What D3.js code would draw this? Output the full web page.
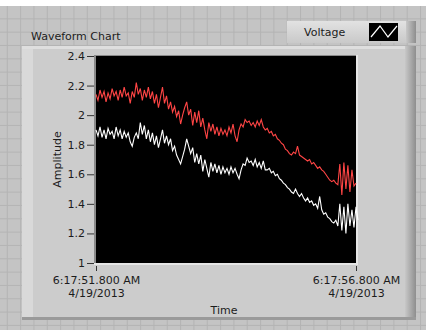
<!DOCTYPE html>
<html>
<head>
<meta charset="utf-8">
<script src="https://cdn.jsdelivr.net/npm/d3@7"></script>
<style>
  body { margin: 0; background: #fff; }
  svg { display: block; }
  text { font-family: "DejaVu Sans", sans-serif; font-size: 11px; fill: #1c1c1c; }
</style>
</head>
<body>
<div id="chart"></div>
<script>
// waveform values, one sample every dt from startTime
const redValues = [
  2.14, 2.10, 2.17, 2.12, 2.16, 2.09, 2.15, 2.11, 2.18, 2.13,
  2.16, 2.10, 2.17, 2.12, 2.19, 2.13, 2.15, 2.08, 2.16, 2.12,
  2.22, 2.14, 2.18, 2.10, 2.17, 2.12, 2.19, 2.11, 2.16, 2.08,
  2.14, 2.05, 2.12, 2.19, 2.08, 2.13, 2.04, 2.09, 2.02, 2.06,
  1.99, 2.03, 1.94, 2.00, 2.05, 2.09, 2.00, 2.04, 1.93, 2.02,
  1.95, 2.03, 1.92, 1.98, 1.90, 1.84, 1.95, 1.89, 1.94, 1.87,
  1.92, 1.86, 1.91, 1.87, 1.90, 1.86, 1.92, 1.88, 1.94, 1.86,
  1.82, 1.90, 1.94, 1.92, 1.97, 1.95, 1.96, 1.93, 1.95, 1.92,
  1.96, 1.93, 1.97, 1.92, 1.90, 1.91, 1.88, 1.89, 1.86, 1.87,
  1.84, 1.83, 1.81, 1.80, 1.77, 1.76, 1.74, 1.73, 1.75, 1.74,
  1.79, 1.73, 1.72, 1.71, 1.70, 1.69, 1.70, 1.67, 1.68, 1.66,
  1.64, 1.65, 1.63, 1.62, 1.60, 1.58, 1.56, 1.55, 1.56, 1.54,
  1.53, 1.67, 1.46, 1.68, 1.50, 1.66, 1.48, 1.63, 1.52, 1.54
];
const whiteValues = [
  1.90, 1.86, 1.92, 1.85, 1.90, 1.84, 1.91, 1.87, 1.89, 1.84,
  1.92, 1.86, 1.90, 1.84, 1.89, 1.85, 1.88, 1.82, 1.79, 1.85,
  1.88, 1.84, 1.95, 1.87, 1.93, 1.84, 1.90, 1.82, 1.88, 1.80,
  1.86, 1.78, 1.84, 1.90, 1.81, 1.86, 1.80, 1.84, 1.76, 1.79,
  1.73, 1.70, 1.67, 1.72, 1.77, 1.84, 1.79, 1.74, 1.78, 1.68,
  1.74, 1.67, 1.73, 1.62, 1.70, 1.64, 1.58, 1.68, 1.62, 1.67,
  1.61, 1.66, 1.60, 1.65, 1.61, 1.64, 1.60, 1.65, 1.61, 1.64,
  1.60, 1.57, 1.63, 1.67, 1.66, 1.71, 1.68, 1.69, 1.66, 1.70,
  1.65, 1.68, 1.64, 1.69, 1.63, 1.63, 1.64, 1.61, 1.62, 1.59,
  1.60, 1.57, 1.56, 1.54, 1.53, 1.51, 1.50, 1.48, 1.47, 1.50,
  1.47, 1.45, 1.47, 1.44, 1.42, 1.44, 1.41, 1.42, 1.39, 1.40,
  1.37, 1.45, 1.36, 1.33, 1.34, 1.31, 1.30, 1.28, 1.27, 1.29,
  1.25, 1.40, 1.22, 1.38, 1.20, 1.40, 1.25, 1.36, 1.24, 1.38, 1.29
];
const yTicks = [1, 1.2, 1.4, 1.6, 1.8, 2, 2.2, 2.4];
const startTime = new Date(2013, 3, 19, 6, 17, 51, 800);
const endTime = new Date(2013, 3, 19, 6, 17, 56, 800);
const chartTitle = "Waveform Chart";
const legendLabel = "Voltage";

const W = 426, H = 330;
const plot = {left: 96, right: 356, top: 56, bottom: 263};

const svg = d3.select("#chart").append("svg")
    .attr("width", W)
    .attr("height", H);

// front panel background with grid
svg.append("rect").attr("width", W).attr("height", H).attr("fill", "#c4c4c4");
svg.append("g").selectAll("line")
    .data(d3.range(7.3, W, 13.33))
    .enter().append("line")
    .attr("x1", d => d).attr("x2", d => d)
    .attr("y1", 0).attr("y2", H)
    .attr("stroke", "#b4b4b4");
svg.append("g").selectAll("line")
    .data(d3.range(5.5, H, 13.33))
    .enter().append("line")
    .attr("y1", d => d).attr("y2", d => d)
    .attr("x1", 0).attr("x2", W)
    .attr("stroke", "#b4b4b4");
svg.append("rect").attr("width", W).attr("height", 6).attr("fill", "#fff");

const defs = svg.append("defs");
const shade = defs.append("linearGradient").attr("id", "rightShade");
shade.append("stop").attr("offset", "0%").attr("stop-color", "#c8c8c8");
shade.append("stop").attr("offset", "100%").attr("stop-color", "#8e8e8e");
const plateGrad = defs.append("linearGradient").attr("id", "plate")
    .attr("x1", 0).attr("x2", 0).attr("y1", 0).attr("y2", 1);
plateGrad.append("stop").attr("offset", "0%").attr("stop-color", "#e2e2e2");
plateGrad.append("stop").attr("offset", "100%").attr("stop-color", "#c9c9c9");

// chart panel
svg.append("rect")
    .attr("x", 22).attr("y", 46).attr("width", 394).attr("height", 274)
    .attr("fill", "#cccccc");
svg.append("rect")
    .attr("x", 22).attr("y", 46).attr("width", 11).attr("height", 272)
    .attr("fill", "#d9d9d9");
svg.append("rect")
    .attr("x", 22).attr("y", 46).attr("width", 390).attr("height", 3)
    .attr("fill", "#dedede");
svg.append("rect")
    .attr("x", 405).attr("y", 46).attr("width", 11).attr("height", 274)
    .attr("fill", "url(#rightShade)");
svg.append("rect")
    .attr("x", 22).attr("y", 317).attr("width", 394).attr("height", 3)
    .attr("fill", "#9a9a9a");

// legend plate
svg.append("rect")
    .attr("x", 287).attr("y", 21).attr("width", 129).attr("height", 22)
    .attr("fill", "url(#plate)");
svg.append("rect")
    .attr("x", 406).attr("y", 21).attr("width", 10).attr("height", 22)
    .attr("fill", "url(#rightShade)");
svg.append("text")
    .attr("x", 304).attr("y", 36)
    .text(legendLabel);
svg.append("rect")
    .attr("x", 369).attr("y", 23).attr("width", 29).attr("height", 18)
    .attr("fill", "#000");
svg.append("polyline")
    .attr("points", "371,37 380,26 388,37 397,26")
    .attr("fill", "none").attr("stroke", "#fff").attr("stroke-width", 1.2);

svg.append("text")
    .attr("x", 31).attr("y", 40)
    .text(chartTitle);

// scales
const x = d3.scaleTime()
    .domain([startTime, endTime])
    .range([plot.left, plot.right]);
const y = d3.scaleLinear()
    .domain([1, 2.4])
    .range([plot.bottom, plot.top]);

// plot area
svg.append("rect")
    .attr("x", plot.left - 2).attr("y", plot.top - 1)
    .attr("width", plot.right - plot.left + 4).attr("height", plot.bottom - plot.top + 3)
    .attr("fill", "#e6e6e6");
svg.append("rect")
    .attr("x", plot.left - 2).attr("y", plot.top - 1)
    .attr("width", plot.right - plot.left + 2).attr("height", plot.bottom - plot.top + 1)
    .attr("fill", "#8a8a8a");
svg.append("rect")
    .attr("x", plot.left).attr("y", plot.top)
    .attr("width", plot.right - plot.left).attr("height", plot.bottom - plot.top)
    .attr("fill", "#000");

const dt = (endTime - startTime) / (redValues.length - 1);
const toPoints = vals => vals.map((v, i) => ({t: new Date(+startTime + i * dt), v: v}));

const line = d3.line()
    .x(d => x(d.t))
    .y(d => y(d.v));

svg.append("path")
    .datum(toPoints(whiteValues))
    .attr("fill", "none")
    .attr("stroke", "#ffffff")
    .attr("stroke-width", 1.1)
    .attr("d", line);
svg.append("path")
    .datum(toPoints(redValues))
    .attr("fill", "none")
    .attr("stroke", "#ff4545")
    .attr("stroke-width", 1.1)
    .attr("d", line);

// y axis
const yAxis = svg.append("g")
    .attr("transform", "translate(" + (plot.left - 2) + ",0)")
    .call(d3.axisLeft(y)
        .tickValues(yTicks)
        .tickSize(7)
        .tickPadding(2)
        .tickFormat(d => String(+d.toFixed(1))));
yAxis.select(".domain").remove();
yAxis.selectAll(".tick line").attr("stroke", "#333");
yAxis.selectAll("text")
    .style("font-family", "DejaVu Sans, sans-serif")
    .style("font-size", "11px")
    .attr("fill", "#1c1c1c");

// x axis
const fmtTime = d3.timeFormat("%-I:%M:%S.%L %p");
const fmtDate = d3.timeFormat("%-m/%-d/%Y");
const xAxis = svg.append("g")
    .attr("transform", "translate(0," + (plot.bottom + 3) + ")")
    .call(d3.axisBottom(x)
        .tickValues([startTime, endTime])
        .tickSize(5)
        .tickFormat(""));
xAxis.select(".domain").remove();
xAxis.selectAll(".tick line").attr("stroke", "#333");
xAxis.selectAll(".tick text").remove();
xAxis.selectAll(".tick").each(function (d) {
    const t = d3.select(this).append("text")
        .attr("text-anchor", "middle")
        .attr("fill", "#1c1c1c")
        .style("font-family", "DejaVu Sans, sans-serif")
        .style("font-size", "11px");
    t.append("tspan").attr("x", 0).attr("y", 18).text(fmtTime(d));
    t.append("tspan").attr("x", 0).attr("y", 31).text(fmtDate(d));
});

// axis titles
svg.append("text")
    .attr("x", (plot.left + plot.right) / 2 - 2).attr("y", 314)
    .attr("text-anchor", "middle")
    .text("Time");
svg.append("text")
    .attr("transform", "translate(61," + ((plot.top + plot.bottom) / 2) + ") rotate(-90)")
    .attr("text-anchor", "middle")
    .text("Amplitude");
</script>
</body>
</html>
